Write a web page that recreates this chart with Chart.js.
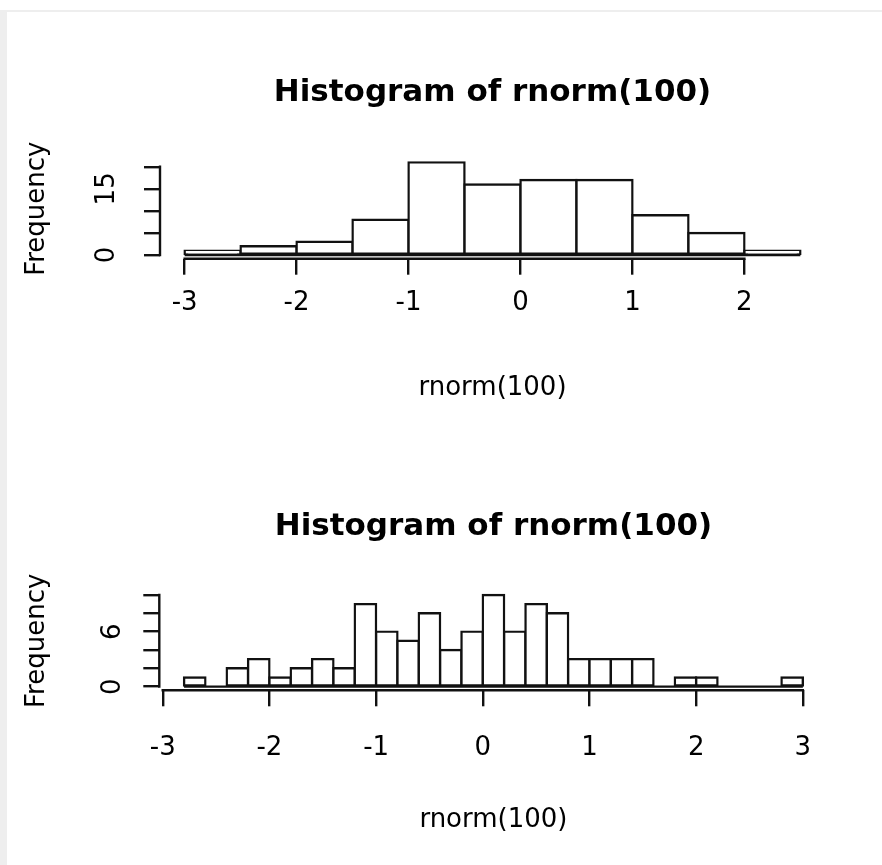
<!DOCTYPE html>
<html>
<head>
<meta charset="utf-8">
<title>Histogram of rnorm(100)</title>
<script src="https://cdn.jsdelivr.net/npm/chart.js@4"></script>
<style>
  html, body { margin: 0; padding: 0; background: #ffffff; }
  body { width: 882px; height: 865px; position: relative; overflow: hidden; }
  #frame-top { position: absolute; left: 0; top: 10px; width: 882px; height: 2px; background: #eeeeee; }
  #frame-left { position: absolute; left: 0; top: 10px; width: 7px; height: 855px; background: #eeeeee; }
  .plot { position: absolute; left: 0; width: 882px; height: 432px; }
  #plot1 { top: 0; }
  #plot2 { top: 432px; }
</style>
</head>
<body>
<div id="frame-top"></div>
<div id="frame-left"></div>
<div class="plot" id="plot1"><canvas id="hist1" width="882" height="432"></canvas></div>
<div class="plot" id="plot2"><canvas id="hist2" width="882" height="432"></canvas></div>
<script>
// two histograms of rnorm(100), drawn the way base R draws hist()

// first histogram - breaks every 0.5
const BREAKS_1 = [-3, -2.5, -2, -1.5, -1, -0.5, 0, 0.5, 1, 1.5, 2, 2.5];
const COUNTS_1 = [1, 2, 3, 8, 21, 16, 17, 17, 9, 5, 1];
const X_TICKS_1 = [-3, -2, -1, 0, 1, 2];
const Y_TICKS_1 = [0, 5, 10, 15, 20];
const Y_LABELS_1 = [0, 15];   // R drops the labels that would overlap

// second histogram - breaks every 0.2
const BREAKS_2 = [-2.8, -2.6, -2.4, -2.2, -2, -1.8, -1.6, -1.4, -1.2, -1, -0.8, -0.6, -0.4, -0.2, 0,
                  0.2, 0.4, 0.6, 0.8, 1, 1.2, 1.4, 1.6, 1.8, 2, 2.2, 2.4, 2.6, 2.8, 3];
const COUNTS_2 = [1, 0, 2, 3, 1, 2, 3, 2, 9, 6, 5, 8, 4, 6, 10, 6, 9, 8, 3, 3, 3, 3, 0, 1, 1, 0, 0, 0, 1];
const X_TICKS_2 = [-3, -2, -1, 0, 1, 2, 3];
const Y_TICKS_2 = [0, 2, 4, 6, 8, 10];
const Y_LABELS_2 = [0, 6];

const TITLE = 'Histogram of rnorm(100)';
const X_TITLE = 'rnorm(100)';
const Y_TITLE = 'Frequency';

const INK = '#111111';
const LINE_W = 2.4;
const FONT = 'DejaVu Sans';


// R pads the data range by 4% on each side
function rLimits(lo, hi) {
    const pad = (hi - lo) * 0.04;
    return [lo - pad, hi + pad];
}


// R draws the axis line only from the first tick to the last one
const rAxisLines = {
    id: 'rAxisLines',
    afterDraw(chart) {
        const ctx = chart.ctx;
        const xs = chart.scales.x;
        const ys = chart.scales.y;
        ctx.save();
        ctx.strokeStyle = INK;
        ctx.lineWidth = LINE_W;
        ctx.lineCap = 'square';
        ctx.beginPath();
        ctx.moveTo(xs.getPixelForValue(xs.ticks[0].value), xs.top);
        ctx.lineTo(xs.getPixelForValue(xs.ticks[xs.ticks.length - 1].value), xs.top);
        ctx.moveTo(ys.right, ys.getPixelForValue(ys.ticks[0].value));
        ctx.lineTo(ys.right, ys.getPixelForValue(ys.ticks[ys.ticks.length - 1].value));
        ctx.stroke();
        ctx.restore();
    }
};


// draws one histogram; box holds the spacing of that panel
function drawHistogram(canvasId, breaks, counts, xTicks, yTicks, yLabels, box) {
    // one bar per bin, placed at the middle of the bin
    const bars = [];
    for (let i = 0; i < counts.length; i++) {
        bars.push({ x: (breaks[i] + breaks[i + 1]) / 2, y: counts[i] });
    }
    const last = breaks.length - 1;
    const xLim = rLimits(breaks[0], breaks[last]);
    const yLim = rLimits(0, Math.max(...counts));

    const tickFont = { family: FONT, size: 26, lineHeight: 1.2 };

    new Chart(document.getElementById(canvasId), {
        type: 'bar',
        data: {
            datasets: [
                {
                    // the bottom line under all the bins (also the empty ones)
                    type: 'line',
                    data: [{ x: breaks[0], y: 0 }, { x: breaks[last], y: 0 }],
                    borderColor: INK,
                    borderWidth: LINE_W,
                    pointRadius: 0,
                    order: -1
                },
                {
                    data: bars,
                    backgroundColor: '#ffffff',
                    borderColor: INK,
                    borderWidth: LINE_W,
                    borderSkipped: false,
                    // half the border sticks out, so shared edges stay one line
                    inflateAmount: LINE_W / 2,
                    barPercentage: 1,
                    categoryPercentage: 1,
                    grouped: false
                }
            ]
        },
        options: {
            responsive: false,
            animation: false,
            events: [],
            layout: { padding: { left: 0, right: box.right, top: 0, bottom: 0 } },
            plugins: {
                legend: { display: false },
                tooltip: { enabled: false },
                title: {
                    display: true,
                    fullSize: false,
                    text: TITLE,
                    color: '#000000',
                    font: { family: FONT, size: 31, weight: 'bold', lineHeight: 1.2 },
                    padding: { top: box.titleTop, bottom: box.titleBottom }
                }
            },
            scales: {
                x: {
                    type: 'linear',
                    min: xLim[0],
                    max: xLim[1],
                    offset: false,
                    afterFit: function(scale) { scale.height = box.xHeight; },
                    afterBuildTicks: function(scale) {
                        scale.ticks = xTicks.map(function(v) { return { value: v }; });
                    },
                    grid: { offset: false, drawOnChartArea: false, drawTicks: true, tickLength: 16, color: INK, lineWidth: LINE_W },
                    border: { display: false },
                    ticks: {
                        autoSkip: false,
                        minRotation: 0,
                        maxRotation: 0,
                        padding: box.xTickPad,
                        color: '#000000',
                        font: tickFont,
                        callback: function(value) { return String(value); }
                    },
                    title: {
                        display: true,
                        text: X_TITLE,
                        color: '#000000',
                        font: tickFont,
                        padding: { top: 0, bottom: box.xTitlePad }
                    }
                },
                y: {
                    type: 'linear',
                    min: yLim[0],
                    max: yLim[1],
                    afterFit: function(scale) { scale.width = box.yWidth; },
                    afterBuildTicks: function(scale) {
                        scale.ticks = yTicks.map(function(v) { return { value: v }; });
                    },
                    grid: { drawOnChartArea: false, drawTicks: true, tickLength: 16, color: INK, lineWidth: LINE_W },
                    border: { display: false },
                    ticks: {
                        autoSkip: false,
                        minRotation: 90,
                        maxRotation: 90,
                        crossAlign: 'center',
                        padding: box.yTickPad,
                        color: '#000000',
                        font: tickFont,
                        callback: function(value) {
                            return yLabels.indexOf(value) >= 0 ? String(value) : '';
                        }
                    },
                    title: {
                        display: true,
                        text: Y_TITLE,
                        color: '#000000',
                        font: tickFont,
                        padding: { top: box.yTitlePad, bottom: 0 }
                    }
                }
            }
        },
        plugins: [rAxisLines]
    });
}


drawHistogram('hist1', BREAKS_1, COUNTS_1, X_TICKS_1, Y_TICKS_1, Y_LABELS_1, {
    right: 57, titleTop: 74.4, titleBottom: 47.1, xHeight: 173.3, yWidth: 160,
    xTickPad: 12.5, xTitlePad: 28.4, yTickPad: 20.5, yTitlePad: 21.4
});

drawHistogram('hist2', BREAKS_2, COUNTS_2, X_TICKS_2, Y_TICKS_2, Y_LABELS_2, {
    right: 54.4, titleTop: 76.4, titleBottom: 45.7, xHeight: 173.7, yWidth: 159.3,
    xTickPad: 26, xTitlePad: 28.4, yTickPad: 22, yTitlePad: 21.4
});
</script>
</body>
</html>
